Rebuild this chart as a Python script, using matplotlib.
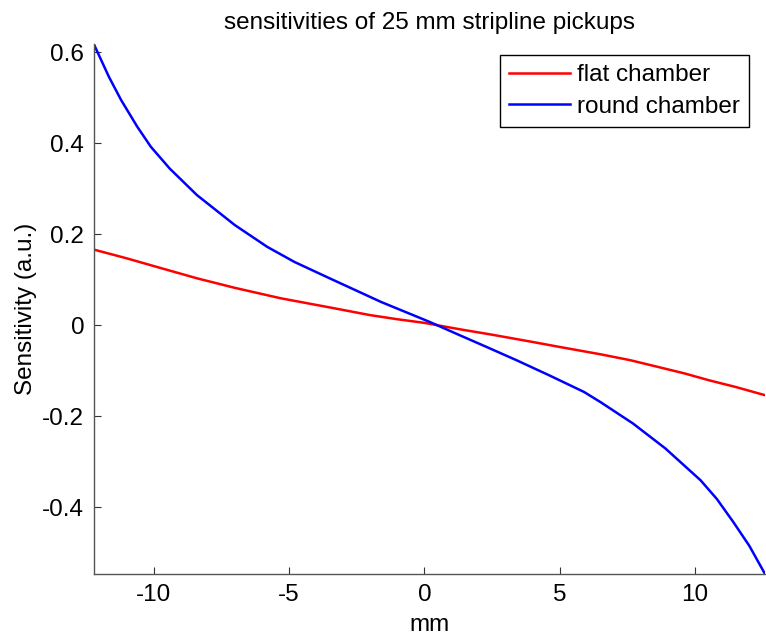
import numpy as np
import matplotlib.pyplot as plt

plt.rcParams["font.family"] = ["Liberation Sans", "DejaVu Sans"]

# values (position in mm, sensitivity in a.u.)
x_flat = [-12.2, -11.0, -10.0, -8.4, -7.0, -5.3, -3.5, -2.0, -1.0, 0.0, 1.3,
          2.5, 4.0, 5.0, 6.5, 7.6, 8.5, 9.6, 10.5, 11.5, 12.58]
y_flat = [0.166, 0.147, 0.130, 0.103, 0.082, 0.059, 0.039, 0.022, 0.013, 0.005, -0.009,
          -0.021, -0.037, -0.048, -0.064, -0.077, -0.090, -0.106, -0.121, -0.136, -0.154]

x_round = [-12.2, -11.65, -11.2, -10.6, -10.1, -9.4, -8.4, -7.0, -5.8, -4.8,
           -3.5, -1.6, 0.2, 1.3, 2.3, 3.4, 4.6, 5.9, 6.5, 7.7, 8.9, 10.2,
           10.8, 11.4, 12.0, 12.58]
y_round = [0.617, 0.546, 0.495, 0.436, 0.392, 0.344, 0.286, 0.220, 0.172, 0.139,
           0.103, 0.051, 0.007, -0.022, -0.048, -0.077, -0.110, -0.147, -0.169, -0.216, -0.271, -0.341,
           -0.382, -0.432, -0.485, -0.547]

fs = 17.5

fig = plt.figure(figsize=(7.66, 6.35), dpi=100)
ax = fig.add_axes([0.1227, 0.0961, 0.8760, 0.8346])

ax.plot(x_flat, y_flat, color="#ff0000", lw=1.8, label="flat chamber")
ax.plot(x_round, y_round, color="#0000ff", lw=1.8, label="round chamber")

ax.set_xlim(-12.2, 12.58)
ax.set_ylim(-0.547, 0.618)
ax.set_xticks([-10, -5, 0, 5, 10])
ax.set_yticks([-0.4, -0.2, 0, 0.2, 0.4, 0.6])
ax.set_yticklabels(["-0.4", "-0.2", "0", "0.2", "0.4", "0.6"])
ax.set_xticklabels(["-10", "-5", "0", "5", "10"])

for s in ["top", "right"]:
    ax.spines[s].set_visible(False)
for s in ["left", "bottom"]:
    ax.spines[s].set_color("#555555")
    ax.spines[s].set_linewidth(1.0)
ax.tick_params(direction="in", length=5, width=0.8, color="#333333",
               labelsize=fs, pad=7)

ax.set_xlabel("mm", fontsize=fs, labelpad=6)
ax.set_ylabel("Sensitivity (a.u.)", fontsize=fs, labelpad=4)
ax.set_title("sensitivities of 25 mm stripline pickups", fontsize=fs, pad=11)

leg = ax.legend(loc="upper right", bbox_to_anchor=(0.976, 0.979), fontsize=fs,
                fancybox=False, framealpha=1, edgecolor="black",
                handlelength=2.5, handletextpad=0.3, borderpad=0.37, labelspacing=0.4,
                borderaxespad=0)
leg.get_frame().set_linewidth(1.0)

fig.savefig("out.png", dpi=100)
